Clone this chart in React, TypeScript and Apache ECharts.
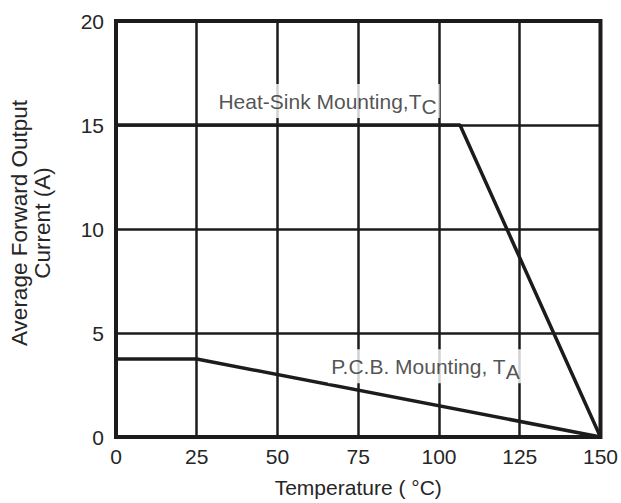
import React, { useEffect, useRef } from "react";
import * as echarts from "echarts";

const heatSinkCurve: [number, number][] = [
  [0, 15],
  [106.5, 15],
  [150, 0],
];
const pcbCurve: [number, number][] = [
  [0, 3.75],
  [25, 3.75],
  [150, 0],
];
const xTicks = { min: 0, max: 150, interval: 25 };
const yTicks = { min: 0, max: 20, interval: 5 };
const heatSinkLabelAt: [number, number] = [65.5, 16.15];
const pcbLabelAt: [number, number] = [95.8, 3.4];

const INK = "#1c1c1c";
const TEXT = "#262626";
const FONT = "Liberation Sans";

export default function App() {
  const ref = useRef<HTMLDivElement>(null);
  useEffect(() => {
    const chart = echarts.init(ref.current!, undefined, { renderer: "svg" });
    const labelStyle = (main: string, sub: string) => ({
      show: true,
      position: "inside" as const,
      formatter: `{a|${main}}{s|${sub}}`,
      backgroundColor: "#ffffff",
      padding: [5, 3, 5, 3],
      rich: {
        a: { fontFamily: FONT, fontSize: 21, color: TEXT, lineHeight: 24 },
        s: {
          fontFamily: FONT,
          fontSize: 21,
          color: TEXT,
          lineHeight: 24,
          padding: [10, 0, 0, 0],
        },
      },
    });
    chart.setOption({
      animation: false,
      backgroundColor: "#ffffff",
      textStyle: { fontFamily: FONT },
      grid: {
        left: 116,
        right: 17,
        top: 21,
        bottom: 66,
        show: true,
        borderColor: INK,
        borderWidth: 4,
        backgroundColor: "transparent",
      },
      xAxis: {
        type: "value",
        min: xTicks.min,
        max: xTicks.max,
        interval: xTicks.interval,
        name: "Temperature ( °C)",
        nameLocation: "middle",
        nameGap: 40,
        nameTextStyle: { fontFamily: FONT, fontSize: 21, color: TEXT },
        axisLine: { show: false },
        axisTick: { show: false },
        axisLabel: { fontFamily: FONT, fontSize: 21, color: TEXT, margin: 9 },
        splitLine: { show: true, lineStyle: { color: INK, width: 2.5 } },
      },
      yAxis: {
        type: "value",
        min: yTicks.min,
        max: yTicks.max,
        interval: yTicks.interval,
        name: "Average Forward Output\nCurrent (A)",
        nameLocation: "middle",
        nameRotate: 90,
        nameGap: 62,
        nameTextStyle: {
          fontFamily: FONT,
          fontSize: 22.5,
          color: TEXT,
          lineHeight: 23,
          padding: [0, 0, 0, 12],
        },
        axisLine: { show: false },
        axisTick: { show: false },
        axisLabel: { fontFamily: FONT, fontSize: 21, color: TEXT, margin: 12 },
        splitLine: { show: true, lineStyle: { color: INK, width: 2.5 } },
      },
      series: [
        {
          type: "line",
          data: heatSinkCurve,
          symbol: "none",
          lineStyle: { color: INK, width: 3.5 },
          z: 3,
        },
        {
          type: "line",
          data: pcbCurve,
          symbol: "none",
          lineStyle: { color: INK, width: 3.5 },
          z: 3,
        },
        {
          type: "scatter",
          data: [heatSinkLabelAt],
          symbolSize: 0,
          z: 5,
          label: labelStyle("Heat-Sink Mounting,T", "C"),
        },
        {
          type: "scatter",
          data: [pcbLabelAt],
          symbolSize: 0,
          z: 5,
          label: labelStyle("P.C.B. Mounting, T", "A"),
        },
      ],
    });
    return () => chart.dispose();
  }, []);
  return (
    <div
      ref={ref}
      style={{ position: "fixed", left: 0, top: 0, width: 621, height: 503 }}
    />
  );
}
